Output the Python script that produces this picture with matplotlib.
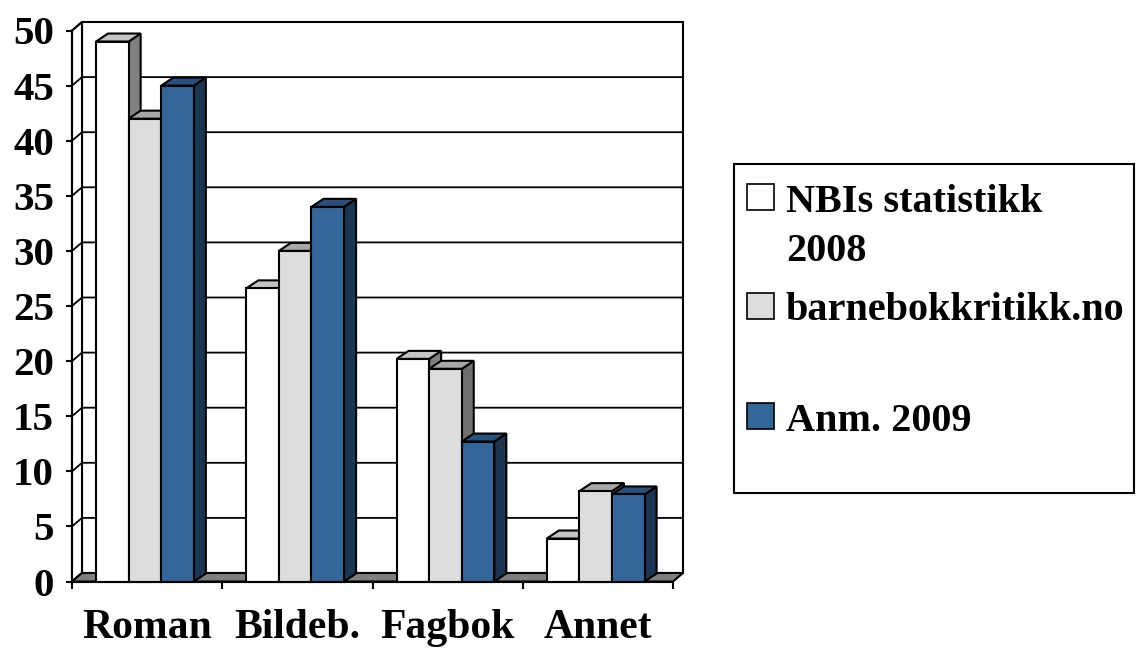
import matplotlib
matplotlib.use('Agg')
import matplotlib.pyplot as plt
from matplotlib.patches import Polygon, Rectangle

# ---------------- data ----------------
categories = ['Roman', 'Bildeb.', 'Fagbok', 'Annet']
series_labels = ['NBIs statistikk\n2008', 'barnebokkritikk.no', 'Anm. 2009']
nbi_2008 = [49, 26.6, 20.2, 3.9]
barnebok = [42, 30, 19.3, 8.2]
anm_2009 = [45, 34, 12.7, 7.9]
y_ticks = [0, 5, 10, 15, 20, 25, 30, 35, 40, 45, 50]

series = [nbi_2008, barnebok, anm_2009]

# ---------------- style ----------------
front_colors = ['#FFFFFF', '#DDDDDD', '#336699']
top_colors = ['#C4C4C4', '#A8A8A8', '#28507A']
side_colors = ['#808080', '#6E6E6E', '#1C3552']
FONT = 'Liberation Serif'

W, H = 1136, 650
fig = plt.figure(figsize=(W / 100, H / 100), dpi=100)
fig.patch.set_facecolor('white')

ax_left, ax_right, ax_bottom_px, ax_top_px = 72, 673, 581.5, 30.5
ax = fig.add_axes([ax_left / W, (H - ax_bottom_px) / H,
                   (ax_right - ax_left) / W, (ax_bottom_px - ax_top_px) / H])
ncat = len(categories)
ymax = y_ticks[-1]
ax.set_xlim(0, ncat)
ax.set_ylim(0, ymax)
ax.set_facecolor('none')

px_x = ncat / (ax_right - ax_left)
px_y = ymax / (ax_bottom_px - ax_top_px)
wdx, wdy = 10 * px_x, 8.5 * px_y     # wall depth
bdx, bdy = 12 * px_x, 8 * px_y       # bar depth
LW = 1.5

# back wall
ax.add_patch(Polygon([(wdx, wdy), (ncat + wdx, wdy), (ncat + wdx, ymax + wdy), (wdx, ymax + wdy)],
                     closed=True, facecolor='white', edgecolor='black', lw=LW, clip_on=False, zorder=0.5))
# side wall
ax.add_patch(Polygon([(0, 0), (wdx, wdy), (wdx, ymax + wdy), (0, ymax)],
                     closed=True, facecolor='white', edgecolor='black', lw=LW, clip_on=False, zorder=0.6))
# gridlines
for v in y_ticks:
    ax.plot([0, wdx, ncat + wdx], [v, v + wdy, v + wdy], color='black', lw=1.3,
            clip_on=False, zorder=0.7, solid_capstyle='butt')
# floor
ax.add_patch(Polygon([(0, 0), (ncat, 0), (ncat + wdx, wdy), (wdx, wdy)],
                     closed=True, facecolor='#808080', edgecolor='black', lw=LW, clip_on=False, zorder=0.8))

# bars
bar_w = 0.217
start = 0.16
z = 2
for i in range(ncat):
    for j, s in enumerate(series):
        h = s[i]
        x0 = i + start + j * bar_w
        x1 = x0 + bar_w
        ax.add_patch(Polygon([(x1, 0), (x1 + bdx, bdy), (x1 + bdx, h + bdy), (x1, h)], closed=True,
                             facecolor=side_colors[j], edgecolor='black', lw=LW, clip_on=False, zorder=z))
        ax.add_patch(Polygon([(x0, h), (x1, h), (x1 + bdx, h + bdy), (x0 + bdx, h + bdy)], closed=True,
                             facecolor=top_colors[j], edgecolor='black', lw=LW, clip_on=False, zorder=z))
        ax.add_patch(Rectangle((x0, 0), bar_w, h, facecolor=front_colors[j], edgecolor='black',
                               lw=LW, clip_on=False, zorder=z))
        z += 0.01

# spines / ticks
for sp in ['top', 'right']:
    ax.spines[sp].set_visible(False)
for sp in ['left', 'bottom']:
    ax.spines[sp].set_linewidth(LW)
    ax.spines[sp].set_zorder(5)

ax.set_yticks(y_ticks)
ax.set_yticklabels([str(v) for v in y_ticks])
ax.tick_params(axis='y', direction='out', length=4, width=LW, pad=9)
for lab in ax.get_yticklabels():
    lab.set_fontfamily(FONT)
    lab.set_fontweight('bold')
    lab.set_fontsize(29.5)

ax.set_xticks(range(ncat + 1))
ax.set_xticklabels([''] * (ncat + 1))
ax.set_xticks([i + 0.5 for i in range(ncat)], minor=True)
ax.set_xticklabels(categories, minor=True)
ax.tick_params(axis='x', which='major', direction='out', length=5, width=LW)
ax.tick_params(axis='x', which='minor', length=0, pad=20)
for lab in ax.get_xticklabels(minor=True):
    lab.set_fontfamily(FONT)
    lab.set_fontweight('bold')
    lab.set_fontsize(30)

# legend (manual, pixel layout)
def fx(x):
    return x / W

def fy(y):
    return (H - y) / H

fig.add_artist(Rectangle((fx(734), fy(493)), 400 / W, 329 / H, transform=fig.transFigure,
                         facecolor='white', edgecolor='black', lw=LW))
marker_tops = [184, 293, 403]
text_baselines = [212, 320, 431]
line_step = 49
for j, label in enumerate(series_labels):
    fig.add_artist(Rectangle((fx(747), fy(marker_tops[j] + 26)), 27 / W, 26 / H,
                             transform=fig.transFigure, facecolor=front_colors[j],
                             edgecolor='black', lw=1.2))
    for k, line in enumerate(label.split('\n')):
        fig.text(fx(786), fy(text_baselines[j] + k * line_step), line, fontfamily=FONT,
                 fontweight='bold', fontsize=29, va='baseline', ha='left')

fig.savefig('out.png', dpi=100)
